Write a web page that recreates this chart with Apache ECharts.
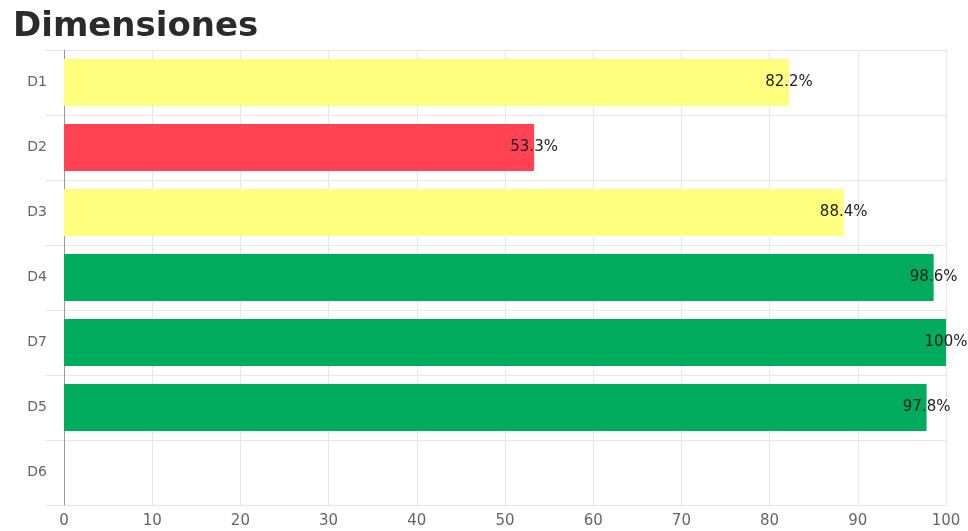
<!DOCTYPE html>
<html>
<head>
<meta charset="utf-8">
<script src="https://cdn.jsdelivr.net/npm/echarts@6/dist/echarts.min.js"></script>
<style>
  html, body { margin: 0; padding: 0; background: #fff; }
  #chart { width: 968px; height: 531px; }
</style>
</head>
<body>
<div id="chart"></div>
<script>
// datos del gráfico
const categories = ['D1', 'D2', 'D3', 'D4', 'D7', 'D5', 'D6'];
const values = [82.2, 53.3, 88.4, 98.6, 100, 97.8, null];
const barColors = ['#ffff80', '#ff4352', '#ffff80', '#00ab5b', '#00ab5b', '#00ab5b', '#00ab5b'];
const xTicks = [0, 10, 20, 30, 40, 50, 60, 70, 80, 90, 100];

const chart = echarts.init(document.getElementById('chart'), null, { renderer: 'canvas' });

chart.setOption({
  animation: false,
  title: {
    text: 'Dimensiones',
    left: 8,
    top: 5,
    textStyle: {
      fontFamily: 'DejaVu Sans',
      fontWeight: 'bold',
      fontSize: 34,
      color: '#2b2b2b'
    }
  },
  grid: { left: 64, right: 22, top: 50, bottom: 26 },
  xAxis: {
    type: 'value',
    min: xTicks[0],
    max: xTicks[xTicks.length - 1],
    interval: 10,
    axisLine: { show: false },
    axisTick: { show: false },
    axisLabel: { color: '#666', fontSize: 15, fontFamily: 'DejaVu Sans', margin: 9 },
    splitLine: { show: true, lineStyle: { color: '#e6e6e6', width: 1 } }
  },
  yAxis: {
    type: 'category',
    data: categories,
    inverse: true,
    axisLine: { show: true, lineStyle: { color: '#999', width: 1 } },
    axisTick: { show: true, length: 19, lineStyle: { color: '#e6e6e6' } },
    axisLabel: { color: '#666', fontSize: 14, fontFamily: 'DejaVu Sans', margin: 17 },
    splitLine: { show: true, lineStyle: { color: '#e6e6e6', width: 1 } }
  },
  series: [{
    type: 'bar',
    barCategoryGap: '28%',
    data: values.map((v, i) => ({ value: v, itemStyle: { color: barColors[i] } })),
    label: {
      show: true,
      position: 'right',
      distance: 0,
      align: 'center',
      color: '#222',
      fontSize: 15,
      fontFamily: 'DejaVu Sans',
      formatter: p => p.value == null ? '' : p.value + '%'
    }
  }]
});
</script>
</body>
</html>
